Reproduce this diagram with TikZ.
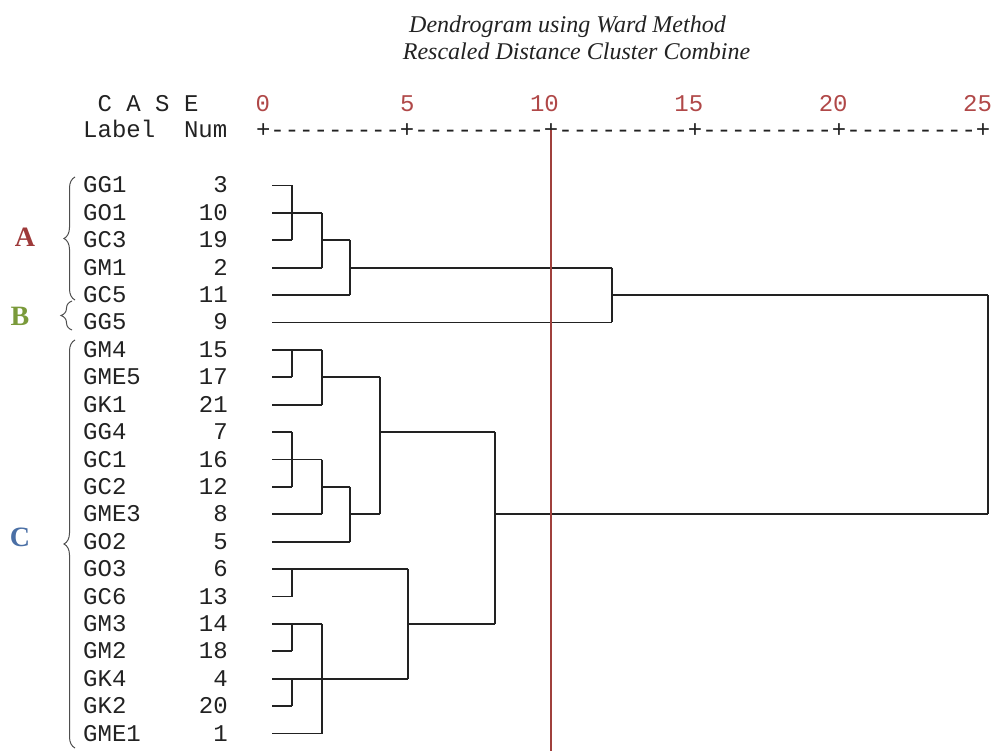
\documentclass[tikz,border=0pt]{standalone}
\usepackage{fontspec}
\setmainfont{Liberation Serif}
\setmonofont{Liberation Mono}
\usetikzlibrary{decorations.pathreplacing}
\definecolor{axisred}{HTML}{B04848}
\definecolor{cutred}{HTML}{A0403C}
\definecolor{clA}{HTML}{9E3A3A}
\definecolor{clB}{HTML}{7A9A3A}
\definecolor{clC}{HTML}{4A6FA5}
\definecolor{ink}{HTML}{222222}
\tikzset{
  mono/.style={font=\fontsize{24}{24}\selectfont\ttfamily, text=ink, inner sep=0pt},
  lab/.style={mono, anchor=base west},
  num/.style={mono, anchor=base east},
  axnum/.style={font=\fontsize{24}{24}\selectfont\ttfamily, text=axisred, inner sep=0pt, anchor=base east},
  title/.style={font=\fontsize{24}{24}\selectfont\itshape, text=ink, inner sep=0pt, anchor=base},
  tree/.style={line width=1.9pt, draw=ink},
  brc/.style={decorate, decoration={brace, amplitude=11pt}, line width=1pt, draw=ink!80},
  grp/.style={font=\fontsize{28}{28}\selectfont\bfseries, inner sep=0pt}
}
\begin{document}
\begin{tikzpicture}[x=1pt,y=-1pt]
\useasboundingbox (0,0) rectangle (996,751);
% titles
\node[title] (t1) at (567.5,33) {Dendrogram using Ward Method};
\node[title] (t2) at (576.5,60) {Rescaled Distance Cluster Combine};
% header
\node[lab] (case) at (83,111.7) {\ C\ A\ S\ E};
\node[lab] (hdr) at (83,138) {Label\ \ Num\ \ +---------+---------+---------+---------+---------+};
\node[axnum] (a0) at (270.2,111.7) {0};
\node[axnum] (a5) at (414.6,111.7) {5};
\node[axnum] (a10) at (559.0,111.7) {10};
\node[axnum] (a15) at (703.4,111.7) {15};
\node[axnum] (a20) at (847.8,111.7) {20};
\node[axnum] (a25) at (992.2,111.7) {25};
% leaf labels
\foreach \n/\v [count=\i from 0] in {GG1/3,GO1/10,GC3/19,GM1/2,GC5/11,GG5/9,GM4/15,GME5/17,GK1/21,GG4/7,GC1/16,GC2/12,GME3/8,GO2/5,GO3/6,GC6/13,GM3/14,GM2/18,GK4/4,GK2/20,GME1/1}{
  \pgfmathsetmacro{\yy}{185.5+27.4*\i+7.5}
  \node[lab] (l\i) at (83,\yy) {\n};
  \node[num] (n\i) at (228,\yy) {\v};
}
% braces and group letters
\draw[brc] (75,300) -- (75,177);
\draw[brc] (72,330) -- (72,301);
\draw[brc] (75,748) -- (75,340);
\node[grp, text=clA] (gA) at (25,237) {A};
\node[grp, text=clB] (gB) at (20,316) {B};
\node[grp, text=clC] (gC) at (20,537) {C};
% dendrogram, cluster A/B
\draw[tree] (272,185.5) -- (292.3,185.5);
\draw[tree] (272,212.9) -- (321.7,212.9);
\draw[tree] (272,240.3) -- (292.3,240.3);
\draw[tree] (272,267.7) -- (321.7,267.7);
\draw[tree] (272,295.1) -- (350,295.1);
\draw[tree] (272,322.5) -- (611.7,322.5);
\draw[tree] (292.3,185.5) -- (292.3,240.3);
\draw[tree] (321.7,212.9) -- (321.7,267.7);
\draw[tree] (321.7,240.3) -- (350,240.3);
\draw[tree] (350,240.3) -- (350,295.1);
\draw[tree] (350,267.7) -- (611.7,267.7);
\draw[tree] (611.7,267.7) -- (611.7,322.5);
\draw[tree] (611.7,295.1) -- (988.3,295.1);
\draw[tree] (988.3,295.1) -- (988.3,514.3);
% cluster C
\draw[tree] (272,349.9) -- (321.7,349.9);
\draw[tree] (272,377.3) -- (292.3,377.3);
\draw[tree] (321.7,377.3) -- (380,377.3);
\draw[tree] (272,404.7) -- (321.7,404.7);
\draw[tree] (292.3,349.9) -- (292.3,377.3);
\draw[tree] (321.7,349.9) -- (321.7,404.7);
\draw[tree] (380,377.3) -- (380,514.3);
\draw[tree] (272,432.1) -- (292.3,432.1);
\draw[tree] (380,432.1) -- (495,432.1);
\draw[tree] (272,459.5) -- (321.7,459.5);
\draw[tree] (272,486.9) -- (292.3,486.9);
\draw[tree] (321.7,486.9) -- (350,486.9);
\draw[tree] (292.3,432.1) -- (292.3,486.9);
\draw[tree] (321.7,459.5) -- (321.7,514.3);
\draw[tree] (272,514.3) -- (321.7,514.3);
\draw[tree] (350,514.3) -- (380,514.3);
\draw[tree] (495,514.3) -- (988.3,514.3);
\draw[tree] (350,486.9) -- (350,541.7);
\draw[tree] (272,541.7) -- (350,541.7);
\draw[tree] (495,432.1) -- (495,623.9);
\draw[tree] (272,569.1) -- (408.3,569.1);
\draw[tree] (272,596.5) -- (292.3,596.5);
\draw[tree] (292.3,569.1) -- (292.3,596.5);
\draw[tree] (408.3,569.1) -- (408.3,678.7);
\draw[tree] (272,623.9) -- (321.7,623.9);
\draw[tree] (408.3,623.9) -- (495,623.9);
\draw[tree] (272,651.3) -- (292.3,651.3);
\draw[tree] (292.3,623.9) -- (292.3,651.3);
\draw[tree] (272,678.7) -- (408.3,678.7);
\draw[tree] (272,706.1) -- (292.3,706.1);
\draw[tree] (292.3,678.7) -- (292.3,706.1);
\draw[tree] (321.7,623.9) -- (321.7,733.5);
\draw[tree] (272,733.5) -- (321.7,733.5);
% cut line
\coordinate (cutTop) at (551,130);
\coordinate (cutBot) at (551,751);
\draw[cutred, line width=2.6pt] (cutTop) -- (cutBot);
\end{tikzpicture}
\end{document}
